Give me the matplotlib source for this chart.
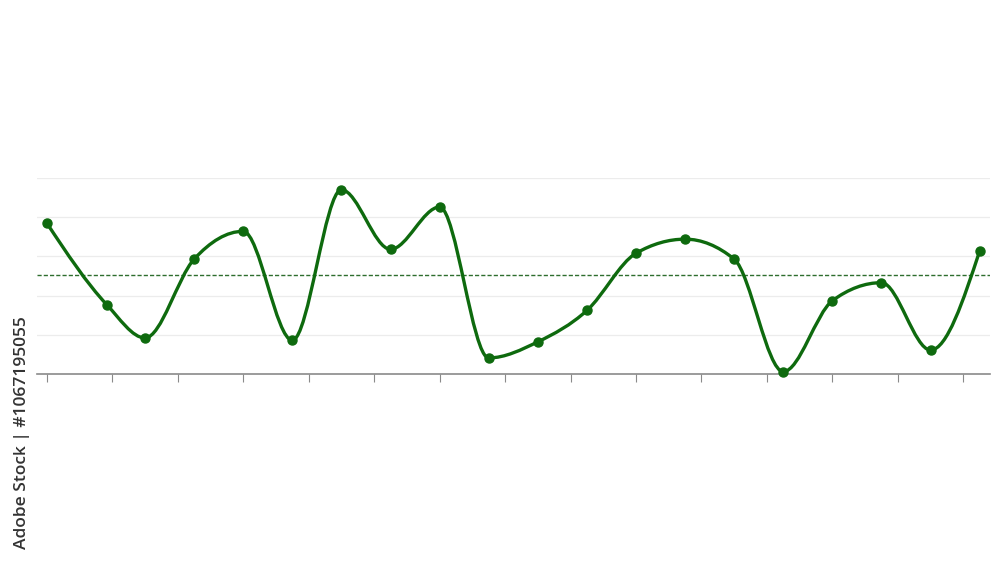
import numpy as np
import matplotlib
matplotlib.use("Agg")
import matplotlib.pyplot as plt
from matplotlib.path import Path
from matplotlib.patches import PathPatch

# ---- data ----
x_vals = [0, 1.22, 2, 3, 4, 5, 6, 7, 8, 9, 10, 11, 12, 13, 14, 15, 16, 17, 18, 19]
y_vals = [3.85, 1.77, 0.92, 2.93, 3.64, 0.86, 4.70, 3.18, 4.26, 0.41,
          0.82, 1.62, 3.08, 3.44, 2.93, 0.06, 1.87, 2.33, 0.61, 3.14]
ref_value = 2.52
tick_positions = [k * 4 / 3 for k in range(15)]
grid_levels = [1, 2, 3, 4, 5]
watermark = "Adobe Stock | #1067195055"

LINE = "#0e6a0e"


def monotone_path(xs, ys):
    """Monotone cubic (d3 curveMonotoneX style) as bezier path."""
    xs = np.asarray(xs, float)
    ys = np.asarray(ys, float)
    n = len(xs)
    h = np.diff(xs)
    s = np.diff(ys) / h
    t = np.zeros(n)
    for i in range(1, n - 1):
        s0, s1 = s[i - 1], s[i]
        h0, h1 = h[i - 1], h[i]
        p = (s0 * h1 + s1 * h0) / (h0 + h1)
        t[i] = (np.sign(s0) + np.sign(s1)) * min(abs(s0), abs(s1), 0.5 * abs(p))
    t[0] = (3 * s[0] - t[1]) / 2
    t[-1] = (3 * s[-1] - t[-2]) / 2
    verts = [(xs[0], ys[0])]
    codes = [Path.MOVETO]
    for i in range(n - 1):
        dx = (xs[i + 1] - xs[i]) / 3
        verts += [(xs[i] + dx, ys[i] + dx * t[i]),
                  (xs[i + 1] - dx, ys[i + 1] - dx * t[i + 1]),
                  (xs[i + 1], ys[i + 1])]
        codes += [Path.CURVE4] * 3
    return Path(verts, codes)


fig = plt.figure(figsize=(10, 5.62), dpi=100)
ax = fig.add_axes([0.037, 188 / 562, 0.953, (384 - 188) / 562])

ax.set_xlim(-0.2, 19.21)
ax.set_ylim(0, 5)

for g in grid_levels:
    ax.axhline(g, color="#ececec", lw=0.9, zorder=1)

ax.axhline(ref_value, color="#2e6e2e", lw=1.0, ls=(0, (3, 1.5)), zorder=2)

patch = PathPatch(monotone_path(x_vals, y_vals), facecolor="none",
                  edgecolor=LINE, lw=2.4, zorder=3, clip_on=False,
                  capstyle="round", joinstyle="round")
ax.add_patch(patch)
ax.plot(x_vals, y_vals, "o", color=LINE, ms=6.5, zorder=4, clip_on=False)

for side in ["top", "right", "left"]:
    ax.spines[side].set_visible(False)
ax.spines["bottom"].set_color("#8a8a8a")
ax.spines["bottom"].set_linewidth(1.2)
ax.set_xticks(tick_positions)
ax.set_xticklabels([])
ax.set_yticks([])
ax.tick_params(axis="x", length=6, width=0.8, color="#8a8a8a", direction="out")

fig.text(0.022, (562 - 433) / 562, watermark, rotation=90, ha="center",
         va="center", fontsize=12.5, fontweight="semibold", color="#333333",
         family="Open Sans")

fig.savefig("out.png", dpi=100)
